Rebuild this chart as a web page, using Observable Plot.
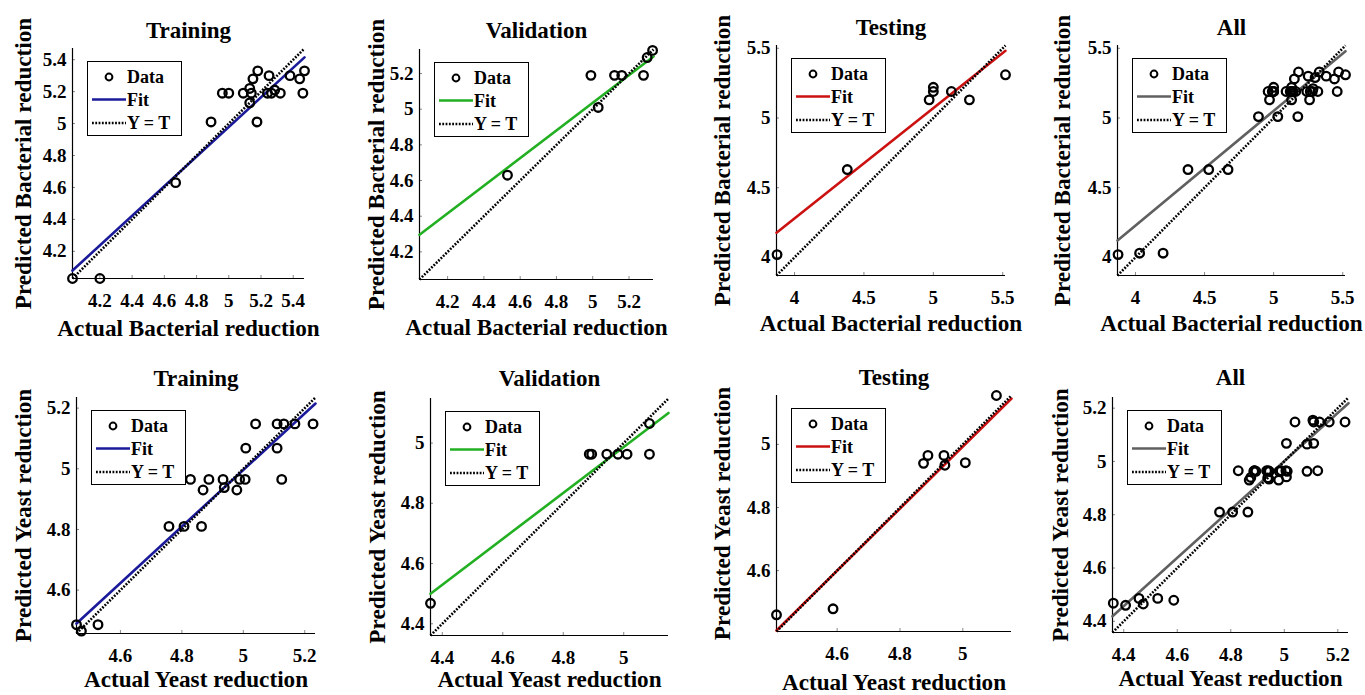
<!DOCTYPE html>
<html>
<head>
<meta charset="utf-8">
<script src="https://cdn.jsdelivr.net/npm/d3@7"></script>
<script src="https://cdn.jsdelivr.net/npm/@observablehq/plot@0.6"></script>
<style>
  html, body { margin: 0; padding: 0; background: #fff; }
  #wrap { position: relative; width: 1365px; height: 695px; overflow: hidden; background: #fff; }
  .panel { position: absolute; }
  .legend { position: absolute; }
</style>
</head>
<body>
<div id="wrap"></div>
<script>
// ---------------- DATA ----------------
// Bacterial reduction: actual (target) vs predicted (output)
const bactTrainActual = [4.03, 4.20, 4.67, 4.89, 4.96, 5.00, 5.09, 5.13, 5.14, 5.13, 5.15, 5.18, 5.175, 5.25, 5.24, 5.265, 5.285, 5.32, 5.38, 5.44, 5.47, 5.46];
const bactTrainPred   = [4.03, 4.03, 4.63, 5.01, 5.19, 5.19, 5.19, 5.22, 5.19, 5.13, 5.28, 5.33, 5.01, 5.30, 5.19, 5.19, 5.21, 5.19, 5.30, 5.28, 5.33, 5.19];
const bactValActual   = [4.53, 4.99, 5.03, 5.12, 5.16, 5.28, 5.30, 5.33];
const bactValPred     = [4.63, 5.19, 5.01, 5.19, 5.19, 5.19, 5.29, 5.33];
const bactTestActual  = [3.874, 4.38, 4.97, 5.00, 5.00, 5.13, 5.26, 5.52];
const bactTestPred    = [4.02, 4.63, 5.13, 5.22, 5.19, 5.19, 5.13, 5.31];

// Yeast reduction
const yeastTrainActual = [4.457, 4.473, 4.527, 4.758, 4.807, 4.864, 4.828, 4.869, 4.888, 4.934, 4.938, 4.979, 4.988, 5.006, 5.008, 5.04, 5.11, 5.11, 5.125, 5.132, 5.168, 5.227];
const yeastTrainPred   = [4.486, 4.465, 4.486, 4.81, 4.81, 4.81, 4.965, 4.93, 4.965, 4.965, 4.938, 4.93, 4.965, 4.965, 5.068, 5.148, 5.148, 5.068, 4.965, 5.148, 5.148, 5.148];
const yeastValActual   = [4.361, 4.886, 4.894, 4.944, 4.981, 5.011, 5.085, 5.085];
const yeastValPred     = [4.468, 4.963, 4.963, 4.963, 4.963, 4.963, 4.963, 5.065];
const yeastTestActual  = [4.407, 4.587, 4.875, 4.889, 4.94, 4.943, 5.008, 5.107];
const yeastTestPred    = [4.46, 4.479, 4.94, 4.965, 4.965, 4.934, 4.942, 5.155];

// Panel titles, regression fits (Output = slope*Target + intercept), axis limits, ticks
const subsetTitles = ["Training", "Validation", "Testing", "All"];
const fitSlopeBact = [0.927, 0.775, 0.791, 0.823];
const fitInterceptBact = [0.344, 1.161, 1.116, 0.936];
const fitSlopeYeast = [0.932, 0.763, 0.983, 0.907];
const fitInterceptYeast = [0.336, 1.172, 0.078, 0.466];
const limitsBact = [[4.03, 5.47], [4.045, 5.335], [3.87, 5.52], [3.87, 5.52]];
const limitsYeast = [[4.457, 5.235], [4.361, 5.148], [4.407, 5.155], [4.358, 5.24]];
const ticksBact = [[4.2, 4.4, 4.6, 4.8, 5, 5.2, 5.4], [4.2, 4.4, 4.6, 4.8, 5, 5.2], [4, 4.5, 5, 5.5], [4, 4.5, 5, 5.5]];
const ticksYeast = [[4.6, 4.8, 5, 5.2], [4.4, 4.6, 4.8, 5], [4.6, 4.8, 5], [4.4, 4.6, 4.8, 5, 5.2]];
const legendLabels = ["Data", "Fit", "Y = T"];

// ---------------- STYLE / LAYOUT ----------------
const fitColors = ["#1a1a9a", "#22b022", "#cc1111", "#606060"];
const FONT = "'Liberation Serif', 'Times New Roman', Times, serif";
// plot box [left, top, right, bottom] in page pixels
const boxes = [
  [72, 48, 304, 278], [419, 49, 653, 279], [776, 45, 1005, 275], [1117, 45, 1345, 275],
  [76, 397, 315, 633], [430, 398, 668, 635], [776, 395, 1011, 631], [1112, 397, 1348, 632]
];
const titleDy = [-18, -19, -18.3, -18.3, -18.7, -20, -18.3, -20];
const xLabelDy = [50, 48, 48, 48, 46, 44, 51, 46];
const yLabelDx = [-49, -43, -54, -55, -53, -53, -54, -52];
const SVG_W = 345, SVG_H = 350;
const DOTS = "1.8,1.5";

function pts(a, p) { return a.map((v, i) => ({actual: v, predicted: p[i]})); }

const bactSets = [pts(bactTrainActual, bactTrainPred), pts(bactValActual, bactValPred), pts(bactTestActual, bactTestPred)];
bactSets.push([].concat(...bactSets));
const yeastSets = [pts(yeastTrainActual, yeastTrainPred), pts(yeastValActual, yeastValPred), pts(yeastTestActual, yeastTestPred)];
yeastSets.push([].concat(...yeastSets));

const panels = [];
for (let i = 0; i < 4; i++) panels.push({organism: "Bacterial", title: subsetTitles[i], data: bactSets[i], slope: fitSlopeBact[i], intercept: fitInterceptBact[i], lim: limitsBact[i], ticks: ticksBact[i], color: fitColors[i]});
for (let i = 0; i < 4; i++) panels.push({organism: "Yeast", title: subsetTitles[i], data: yeastSets[i], slope: fitSlopeYeast[i], intercept: fitInterceptYeast[i], lim: limitsYeast[i], ticks: ticksYeast[i], color: fitColors[i]});

const wrap = document.getElementById("wrap");

panels.forEach((p, k) => {
  const col = k % 4, row = Math.floor(k / 4);
  const svgLeft = col * 340, svgTop = row * 345;
  const b = boxes[k];
  const mL = b[0] - svgLeft, mT = b[1] - svgTop, mR = svgLeft + SVG_W - b[2], mB = svgTop + SVG_H - b[3];
  const innerW = b[2] - b[0], innerH = b[3] - b[1];
  const fitLine = p.lim.map(x => ({x, y: p.slope * x + p.intercept}));
  const idLine = p.lim.map(x => ({x, y: x}));
  const fmt = d => String(d);

  const chart = Plot.plot({
    width: SVG_W, height: SVG_H,
    marginLeft: mL, marginTop: mT, marginRight: mR, marginBottom: mB,
    x: {domain: p.lim},
    y: {domain: p.lim},
    style: {fontFamily: FONT, fontSize: "19px", fontWeight: "bold", color: "#000", background: "transparent", overflow: "visible"},
    marks: [
      Plot.tickX(p.ticks, {x: d => d, insetTop: innerH - 3, stroke: "#888", strokeWidth: 1}),
      Plot.tickY(p.ticks, {y: d => d, insetRight: innerW - 3, stroke: "#888", strokeWidth: 1}),
      Plot.ruleX([p.lim[0]], {stroke: "#000", strokeWidth: 1.2}),
      Plot.ruleY([p.lim[0]], {stroke: "#000", strokeWidth: 1.2}),
      Plot.axisX(p.ticks, {tickSize: 0, tickPadding: 15, tickFormat: fmt, label: null, fontSize: 19, fontWeight: "bold", fill: "#000"}),
      Plot.axisY(p.ticks, {tickSize: 0, tickPadding: 6, tickFormat: fmt, label: null, fontSize: 19, fontWeight: "bold", fill: "#000"}),
      Plot.line(fitLine, {x: "x", y: "y", stroke: p.color, strokeWidth: 2.6}),
      Plot.line(idLine, {x: "x", y: "y", stroke: "#000", strokeWidth: 2.6, strokeDasharray: DOTS, strokeLinecap: "butt"}),
      Plot.dot(p.data, {x: "actual", y: "predicted", r: 4.3, stroke: "#000", strokeWidth: 2.3, fill: "none"}),
      Plot.text([p.title], {text: d => d, frameAnchor: "top", lineAnchor: "middle", textAnchor: "middle", dy: titleDy[k], fontSize: 23, fontWeight: "bold", fill: "#000"}),
      Plot.text([`Actual ${p.organism} reduction`], {text: d => d, frameAnchor: "bottom", lineAnchor: "middle", textAnchor: "middle", dy: xLabelDy[k], fontSize: 23.2, fontWeight: "bold", fill: "#000"}),
      Plot.text([`Predicted ${p.organism} reduction`], {text: d => d, frameAnchor: "left", lineAnchor: "middle", textAnchor: "middle", dx: yLabelDx[k], rotate: -90, fontSize: 23.2, fontWeight: "bold", fill: "#000"})
    ]
  });
  const div = document.createElement("div");
  div.className = "panel";
  div.style.left = svgLeft + "px";
  div.style.top = svgTop + "px";
  div.style.width = SVG_W + "px";
  div.style.height = SVG_H + "px";
  div.appendChild(chart);
  wrap.appendChild(div);

  // legend box
  const lg = d3.create("svg").attr("width", 96).attr("height", 76)
    .style("font-family", FONT).style("font-weight", "bold").style("font-size", "18px");
  lg.append("rect").attr("x", 0.5).attr("y", 0.5).attr("width", 94).attr("height", 74)
    .attr("fill", "#fff").attr("stroke", "#000").attr("stroke-width", 1);
  const rowsY = [16, 38.5, 62];
  lg.append("circle").attr("cx", 22).attr("cy", rowsY[0]).attr("r", 3.4)
    .attr("fill", "none").attr("stroke", "#000").attr("stroke-width", 2);
  lg.append("line").attr("x1", 5).attr("x2", 39).attr("y1", rowsY[1]).attr("y2", rowsY[1])
    .attr("stroke", p.color).attr("stroke-width", 2.5);
  lg.append("line").attr("x1", 5).attr("x2", 39).attr("y1", rowsY[2]).attr("y2", rowsY[2])
    .attr("stroke", "#000").attr("stroke-width", 2.4).attr("stroke-dasharray", DOTS);
  legendLabels.forEach((t, i) => {
    lg.append("text").attr("x", 40).attr("y", rowsY[i]).attr("dy", "0.35em").text(t);
  });
  const ld = document.createElement("div");
  ld.className = "legend";
  ld.style.left = (b[0] + 15) + "px";
  ld.style.top = (b[1] + 13) + "px";
  ld.appendChild(lg.node());
  wrap.appendChild(ld);
});
</script>
</body>
</html>
